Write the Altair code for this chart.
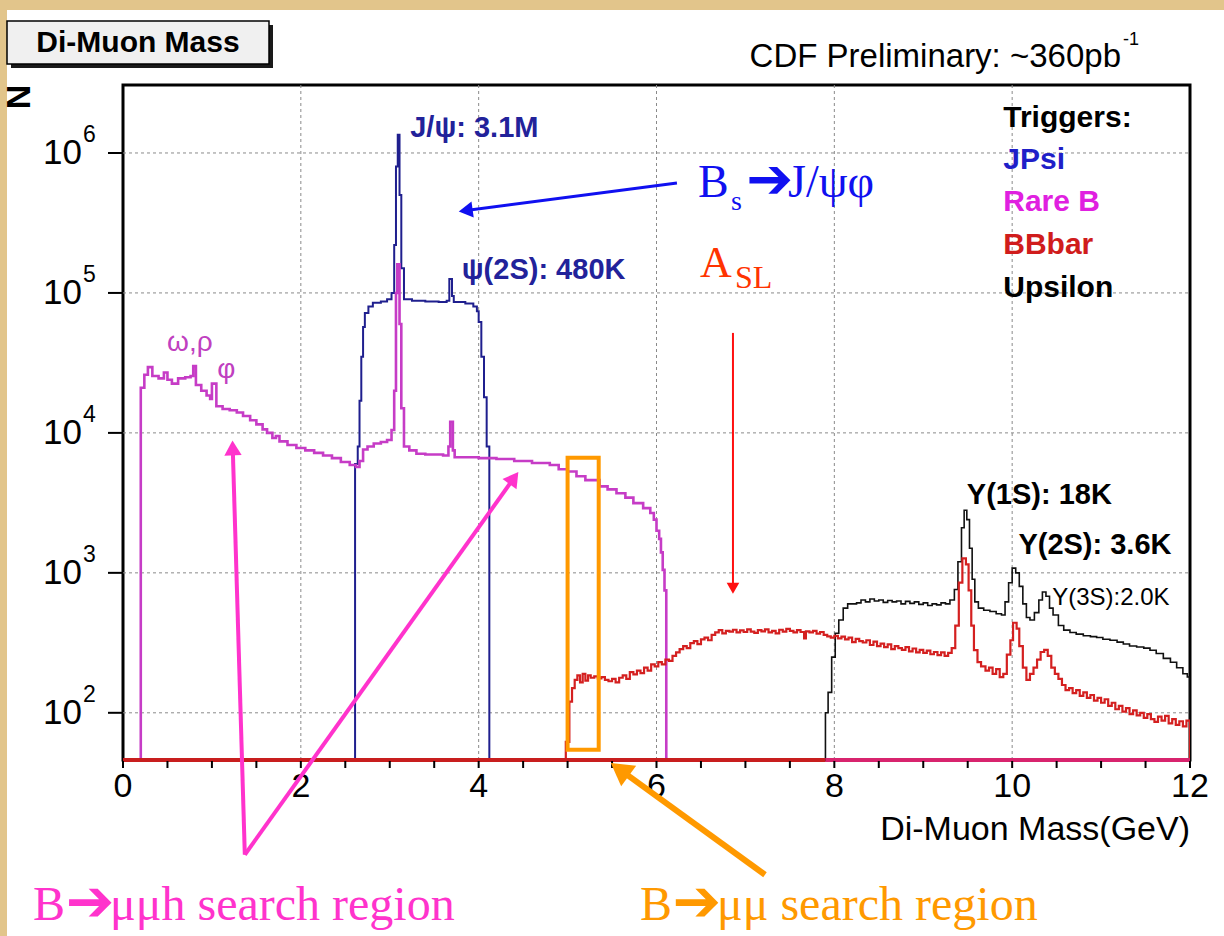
import altair as alt
import pandas as pd

# ---------------- data ----------------
# (di-muon mass [GeV] lower bin edge, entries N), drawn as step histograms
jpsi = [
    (2.59, 46), (2.61, 6000), (2.64, 8000), (2.66, 17000), (2.68, 35000), (2.70, 57000),
    (2.72, 72000), (2.76, 80000), (2.81, 85000), (2.90, 87000), (2.97, 90000), (3.02, 100000),
    (3.05, 220000), (3.07, 800000), (3.09, 1350000), (3.11, 500000), (3.13, 150000),
    (3.16, 90000), (3.25, 88000), (3.40, 87000), (3.55, 86000), (3.64, 88000), (3.67, 126000),
    (3.70, 95000), (3.72, 86000), (3.85, 84000), (3.94, 80000), (3.98, 74000), (4.00, 62000),
    (4.03, 35000), (4.06, 18000), (4.09, 8000), (4.12, 46),
]
rare_b = [
    (0.19, 46), (0.20, 21000), (0.24, 26000), (0.28, 29500), (0.33, 25500), (0.40, 24500),
    (0.46, 27000), (0.50, 24000), (0.55, 22500), (0.62, 24500), (0.70, 25000), (0.76, 25500),
    (0.79, 30000), (0.82, 22000), (0.88, 20000), (0.94, 18500), (0.98, 17500), (1.00, 22500),
    (1.05, 15500), (1.12, 14800), (1.20, 14500), (1.28, 14000), (1.35, 13200), (1.43, 12300),
    (1.50, 11500), (1.57, 10600), (1.62, 10000), (1.68, 9200), (1.72, 9500), (1.76, 8700),
    (1.85, 8200), (1.95, 7800), (2.05, 7500), (2.15, 7200), (2.25, 6900), (2.35, 6600),
    (2.45, 6200), (2.55, 5900), (2.62, 5700), (2.66, 6300), (2.70, 7600), (2.75, 8000),
    (2.82, 8400), (2.90, 8600), (2.97, 8900), (3.02, 10500), (3.05, 20000), (3.07, 100000),
    (3.085, 160000), (3.11, 60000), (3.13, 15000), (3.16, 8000), (3.22, 7500), (3.30, 7100),
    (3.40, 7000), (3.50, 7000), (3.60, 6900), (3.66, 8000), (3.68, 12000), (3.71, 7500),
    (3.73, 6700), (3.85, 6700), (4.00, 6600), (4.20, 6500), (4.40, 6300), (4.60, 6100),
    (4.80, 5900), (4.90, 5500), (5.00, 5300), (5.10, 4900), (5.20, 4600), (5.36, 4150),
    (5.45, 3950), (5.55, 3700), (5.65, 3450), (5.74, 3150), (5.85, 2900), (5.93, 2680),
    (5.97, 2400), (6.00, 2000), (6.03, 1750), (6.05, 1400), (6.07, 1050), (6.09, 750),
    (6.11, 46),
]
bbbar = [
    (4.97, 46), (4.98, 62), (5.02, 120), (5.05, 150), (5.08, 172), (5.11, 185), (5.14, 165),
    (5.17, 190), (5.20, 170), (5.23, 185), (5.26, 178), (5.30, 182), (5.34, 176), (5.38, 180),
    (5.42, 172), (5.46, 168), (5.50, 175), (5.54, 165), (5.58, 178), (5.62, 185), (5.66, 175),
    (5.70, 195), (5.74, 188), (5.78, 200), (5.82, 192), (5.86, 210), (5.90, 200), (5.94, 222),
    (5.98, 215), (6.02, 230), (6.06, 222), (6.10, 240), (6.14, 235), (6.18, 255), (6.22, 270),
    (6.26, 285), (6.30, 300), (6.34, 290), (6.38, 315), (6.42, 325), (6.46, 310), (6.50, 335),
    (6.54, 345), (6.58, 330), (6.62, 360), (6.66, 375), (6.70, 390), (6.74, 370), (6.78, 385),
    (6.82, 380), (6.86, 392), (6.90, 375), (6.94, 388), (6.98, 378), (7.02, 395), (7.06, 380),
    (7.10, 372), (7.14, 390), (7.18, 382), (7.22, 395), (7.26, 376), (7.30, 385), (7.34, 370),
    (7.38, 392), (7.42, 380), (7.46, 398), (7.50, 385), (7.54, 375), (7.58, 390), (7.62, 378),
    (7.66, 340), (7.68, 382), (7.72, 375), (7.76, 385), (7.80, 368), (7.84, 378), (7.88, 360),
    (7.92, 352), (7.96, 345), (8.00, 355), (8.04, 340), (8.08, 350), (8.12, 335), (8.16, 345),
    (8.20, 320), (8.24, 338), (8.28, 325), (8.32, 318), (8.36, 330), (8.40, 305), (8.44, 322),
    (8.48, 300), (8.52, 312), (8.56, 295), (8.60, 308), (8.64, 285), (8.68, 300), (8.72, 290),
    (8.76, 282), (8.80, 295), (8.84, 275), (8.88, 288), (8.92, 270), (8.96, 282), (9.00, 268),
    (9.04, 278), (9.08, 262), (9.12, 272), (9.16, 258), (9.20, 270), (9.24, 255), (9.28, 268),
    (9.32, 290), (9.36, 420), (9.40, 850), (9.44, 1270), (9.48, 1150), (9.51, 750), (9.54, 420),
    (9.57, 280), (9.61, 230), (9.65, 215), (9.70, 200), (9.74, 210), (9.78, 190), (9.82, 205),
    (9.86, 180), (9.90, 190), (9.94, 260), (9.98, 330), (10.01, 440), (10.05, 400), (10.08, 300),
    (10.12, 210), (10.16, 172), (10.20, 190), (10.24, 210), (10.28, 240), (10.32, 272),
    (10.36, 282), (10.40, 255), (10.44, 210), (10.48, 190), (10.52, 175), (10.56, 158),
    (10.60, 145), (10.64, 150), (10.68, 138), (10.72, 145), (10.76, 132), (10.80, 140),
    (10.84, 128), (10.88, 134), (10.92, 122), (10.96, 128), (11.00, 118), (11.04, 125),
    (11.08, 112), (11.12, 118), (11.16, 106), (11.20, 112), (11.24, 102), (11.28, 108),
    (11.32, 98), (11.36, 104), (11.40, 96), (11.44, 100), (11.48, 92), (11.52, 98), (11.56, 90),
    (11.60, 86), (11.64, 94), (11.68, 88), (11.72, 95), (11.76, 84), (11.80, 90), (11.84, 82),
    (11.88, 87), (11.92, 80), (11.96, 88), (12.00, 46),
]
upsilon = [
    (7.89, 46), (7.90, 100), (7.93, 140), (7.97, 250), (8.01, 370), (8.05, 460), (8.10, 560),
    (8.15, 600), (8.25, 610), (8.30, 640), (8.35, 620), (8.40, 650), (8.45, 630), (8.50, 640),
    (8.55, 615), (8.60, 635), (8.65, 620), (8.70, 630), (8.75, 600), (8.80, 625), (8.85, 605),
    (8.90, 620), (8.95, 595), (9.00, 610), (9.05, 585), (9.10, 600), (9.15, 590), (9.20, 610),
    (9.25, 600), (9.30, 640), (9.35, 760), (9.39, 1200), (9.43, 2100), (9.46, 2800),
    (9.49, 2400), (9.52, 1500), (9.55, 900), (9.58, 620), (9.62, 560), (9.68, 540),
    (9.75, 530), (9.82, 510), (9.88, 500), (9.92, 620), (9.96, 850), (10.00, 1080),
    (10.04, 1000), (10.08, 800), (10.12, 600), (10.16, 480), (10.20, 460), (10.25, 520),
    (10.30, 640), (10.34, 730), (10.38, 680), (10.42, 560), (10.46, 500), (10.52, 420),
    (10.58, 390), (10.65, 375), (10.72, 365), (10.80, 355), (10.88, 350), (10.95, 345),
    (11.02, 335), (11.10, 330), (11.18, 320), (11.25, 310), (11.32, 300), (11.40, 295),
    (11.48, 290), (11.55, 280), (11.62, 265), (11.70, 245), (11.78, 230), (11.85, 210),
    (11.92, 190), (11.97, 180), (12.00, 46),
]

trigger_names = ["JPsi", "Upsilon", "Rare B", "BBbar"]
trigger_line_colors = ["#1F1F8E", "#111111", "#C63CC6", "#D42020"]
trigger_line_widths = [2, 1.6, 2.6, 2.2]

x_ticks = [0, 0.5, 1, 1.5, 2, 2.5, 3, 3.5, 4, 4.5, 5, 5.5, 6, 6.5, 7, 7.5, 8, 8.5, 9,
           9.5, 10, 10.5, 11, 11.5, 12]
x_label_values = [0, 2, 4, 6, 8, 10, 12]
x_labels = ["0", "2", "4", "6", "8", "10", "12"]
x_grid = [2, 4, 6, 8, 10]
y_decades = [100, 1000, 10000, 100000, 1000000]
y_exponents = ["2", "3", "4", "5", "6"]
y_ticks = [50, 60, 70, 80, 90, 100, 200, 300, 400, 500, 600, 700, 800, 900,
           1000, 2000, 3000, 4000, 5000, 6000, 7000, 8000, 9000,
           10000, 20000, 30000, 40000, 50000, 60000, 70000, 80000, 90000,
           100000, 200000, 300000, 400000, 500000, 600000, 700000, 800000, 900000,
           1000000, 2000000, 3000000]

# peak labels: (text, mass, N)
navy_labels = [("J/ψ: 3.1M", 3.23, 1.51e6), ("ψ(2S): 480K", 3.81, 1.46e5)]
magenta_labels = [("ω,ρ", 0.495, 43900), ("φ", 1.06, 28200)]
upsilon_labels = [("Υ(1S): 18K", 9.49, 3610), ("Υ(2S): 3.6K", 10.07, 1585)]
upsilon3_labels = [("Υ(3S):2.0K", 10.45, 663)]
legend_labels = ["Triggers:", "JPsi", "Rare B", "BBbar", "Upsilon"]
legend_colors = ["#000000", "#1F1FC8", "#E020E0", "#D01C1C", "#000000"]
legend_n = [1.53e6, 7.69e5, 3.85e5, 1.90e5, 9.37e4]
legend_mass = 9.90

# slide annotations (mass, N)
blue_arrow = [(6.23, 611000), (3.88, 390000)]
red_arrow = [(6.86, 51800), (6.86, 800)]
pink_arrow_a = [(1.37, 9.68), (1.235, 7500)]
pink_arrow_b = [(1.37, 9.68), (4.38, 4600)]
orange_arrow = [(7.22, 6.97), (5.62, 38)]
orange_box = [(5.00, 5.35, 54.5, 6630)]
baseline = [(0.0, 7.9, "#C81E1E"), (7.9, 12.0, "#D8246E")]

W, H = 1067, 675
SANS = "Liberation Sans"
SERIF = "Liberation Serif"
TAN = "#E2C58B"

xs = alt.Scale(domain=[0, 12], nice=False, zero=False)
ys = alt.Scale(type="log", domain=[46, 3.06e6], nice=False)


def X(f="mass"):
    return alt.X(f"{f}:Q", scale=xs, axis=None)


def Y(f="n"):
    return alt.Y(f"{f}:Q", scale=ys, axis=None)


def one():
    return pd.DataFrame({"k": [0]})


layers = []

# slide background strips
layers.append(alt.Chart(one()).mark_rect(color=TAN).encode(
    x=alt.value(-123), x2=alt.value(-116), y=alt.value(-85), y2=alt.value(851)))
layers.append(alt.Chart(one()).mark_rect(color=TAN).encode(
    x=alt.value(-123), x2=alt.value(1101), y=alt.value(-85), y2=alt.value(-75)))

# grid
layers.append(alt.Chart(pd.DataFrame({"mass": x_grid})).mark_rule(
    color="#8a8a8a", strokeDash=[3, 3], strokeWidth=1).encode(
    x=X(), y=alt.value(0), y2=alt.value(H)))
layers.append(alt.Chart(pd.DataFrame({"n": y_decades})).mark_rule(
    color="#8a8a8a", strokeDash=[3, 3], strokeWidth=1).encode(
    y=Y(), x=alt.value(0), x2=alt.value(W)))

# histograms
rows = []
for name, col, w, pts in zip(trigger_names, trigger_line_colors, trigger_line_widths,
                             [jpsi, upsilon, rare_b, bbbar]):
    for i, (m, n) in enumerate(pts):
        rows.append({"trigger": name, "mass": m, "n": n, "i": i, "col": col, "w": w})
hist_df = pd.DataFrame(rows)

y_axis = alt.Axis(values=y_ticks, tickSize=8, tickWidth=1.5, tickColor="black",
                  domainColor="black", domainWidth=3, labels=False, grid=False, title=None)

layers.append(alt.Chart(hist_df).mark_line(interpolate="step-after", clip=True).encode(
    x=X(),
    y=alt.Y("n:Q", scale=ys, axis=y_axis),
    color=alt.Color("col:N", scale=None),
    strokeWidth=alt.StrokeWidth("w:Q", scale=None),
    detail="trigger:N",
    order=alt.Order("i:Q"),
))

# histogram zero lines along the x axis
bl = pd.DataFrame(baseline, columns=["mass", "mass2", "col"])
bl["n"] = 46
layers.append(alt.Chart(bl).mark_rule(strokeWidth=4).encode(
    x=X(), x2="mass2:Q", y=Y(), color=alt.Color("col:N", scale=None)))

# x ticks and labels
layers.append(alt.Chart(pd.DataFrame({"mass": x_ticks})).mark_rule(
    color="black", strokeWidth=2).encode(x=X(), y=alt.value(H + 1), y2=alt.value(H + 8)))
layers.append(alt.Chart(pd.DataFrame({"mass": x_label_values, "label": x_labels})).mark_text(
    font=SANS, fontSize=34, align="center", baseline="top", color="black").encode(
    x=X(), y=alt.value(H + 10), text="label:N"))

# y major ticks and labels
dec = pd.DataFrame({"n": y_decades, "base": ["10"] * 5, "exp": y_exponents})
layers.append(alt.Chart(dec).mark_rule(color="black", strokeWidth=2).encode(
    y=Y(), x=alt.value(-15), x2=alt.value(0)))
layers.append(alt.Chart(dec).mark_text(font=SANS, fontSize=35, align="right",
                                       baseline="middle", color="black").encode(
    y=Y(), x=alt.value(-41), text="base:N"))
layers.append(alt.Chart(dec).mark_text(font=SANS, fontSize=23, align="left",
                                       baseline="middle", color="black", dy=-18).encode(
    y=Y(), x=alt.value(-40), text="exp:N"))

# axis titles, header box, CDF text (chrome)
layers.append(alt.Chart(one()).mark_text(text="Di-Muon Mass(GeV)", font=SANS, fontSize=34,
                                         align="right", baseline="middle", color="black").encode(
    x=alt.value(W), y=alt.value(745)))
layers.append(alt.Chart(one()).mark_text(text="N", font=SANS, fontSize=34, fontWeight="bold",
                                         angle=270, align="center", baseline="middle",
                                         color="black").encode(
    x=alt.value(-103), y=alt.value(12)))
layers.append(alt.Chart(one()).mark_rect(color="#1a1a1a").encode(
    x=alt.value(-112), x2=alt.value(150), y=alt.value(-60), y2=alt.value(-17)))
layers.append(alt.Chart(one()).mark_rect(fill="#F0F0F0", stroke="black", strokeWidth=1.5).encode(
    x=alt.value(-116), x2=alt.value(146), y=alt.value(-64), y2=alt.value(-21)))
layers.append(alt.Chart(one()).mark_text(text="Di-Muon Mass", font=SANS, fontSize=30,
                                         fontWeight="bold", align="center", baseline="middle",
                                         color="black").encode(
    x=alt.value(15), y=alt.value(-42)))
layers.append(alt.Chart(one()).mark_text(text="CDF Preliminary: ~360pb", font=SANS, fontSize=33,
                                         align="right", baseline="middle", color="black").encode(
    x=alt.value(998), y=alt.value(-28)))
layers.append(alt.Chart(one()).mark_text(text="-1", font=SANS, fontSize=18, align="left",
                                         baseline="middle", color="black").encode(
    x=alt.value(1000), y=alt.value(-45)))


def labels(items, **kw):
    df = pd.DataFrame(items, columns=["label", "mass", "n"])
    return alt.Chart(df).mark_text(**kw).encode(x=X(), y=Y(), text="label:N")


layers.append(labels(navy_labels, font=SANS, fontSize=29, fontWeight="bold", align="left",
                     baseline="middle", color="#22229A"))
layers.append(labels(magenta_labels, font=SANS, fontSize=28, align="left",
                     baseline="middle", color="#C040C0"))
layers.append(labels(upsilon_labels, font=SANS, fontSize=29, fontWeight="bold", align="left",
                     baseline="middle", color="black"))
layers.append(labels(upsilon3_labels, font=SANS, fontSize=24, align="left",
                     baseline="middle", color="black"))

leg = pd.DataFrame({"label": legend_labels, "n": legend_n, "col": legend_colors})
leg["mass"] = legend_mass
layers.append(alt.Chart(leg).mark_text(font=SANS, fontSize=30, fontWeight="bold", align="left",
                                       baseline="alphabetic").encode(
    x=X(), y=Y(), text="label:N", color=alt.Color("col:N", scale=None)))


# arrows
def arrow(pts, color, width, head_size, head_angle):
    df = pd.DataFrame(pts, columns=["mass", "n"])
    df["i"] = range(len(df))
    line = alt.Chart(df).mark_line(color=color, strokeWidth=width).encode(
        x=X(), y=Y(), order="i:Q")
    head = alt.Chart(df.tail(1)).mark_point(shape="triangle", filled=True, opacity=1,
                                            color=color, size=head_size,
                                            angle=head_angle).encode(x=X(), y=Y())
    return [line, head]


layers += arrow(blue_arrow, "#1010F0", 3, 260, 262)
layers += arrow(red_arrow, "#FF1010", 2, 160, 180)
layers += arrow(pink_arrow_a, "#FF33CC", 4, 300, 358)
layers += arrow(pink_arrow_b, "#FF33CC", 4, 300, 36)
layers += arrow(orange_arrow, "#FF9900", 6, 650, 306)

ob = pd.DataFrame(orange_box, columns=["mass", "mass2", "n", "n2"])
layers.append(alt.Chart(ob).mark_rect(fillOpacity=0, stroke="#FF9900", strokeWidth=4).encode(
    x=X(), x2="mass2:Q", y=Y(), y2="n2:Q"))

# slide texts (Times-like)
layers.append(labels([("B", 6.466, 485000), ("J/ψφ", 7.479, 485000)], font=SERIF,
                     fontSize=46, align="left", baseline="alphabetic", color="#1010F0"))
layers.append(labels([("s", 6.838, 392000)], font=SERIF, fontSize=28, align="left",
                     baseline="alphabetic", color="#1010F0"))
layers.append(labels([("➔", 7.01, 631000)], font="DejaVu Sans", fontSize=56, fontWeight="bold",
                     align="left", baseline="middle", color="#1010F0"))

layers.append(labels([("A", 6.49, 130000)], font=SERIF, fontSize=44, align="left",
                     baseline="alphabetic", color="#FF3300"))
layers.append(labels([("SL", 6.883, 108600)], font=SERIF, fontSize=32, align="left",
                     baseline="alphabetic", color="#FF3300"))

pink_text = [("B", -1.012, 3.32), ("μμh search region", -0.146, 3.32)]
orange_text = [("B", 5.814, 3.32), ("μμ search region", 6.68, 3.32)]
layers.append(labels(pink_text, font=SERIF, fontSize=48, align="left", baseline="alphabetic",
                     color="#FF33CC"))
layers.append(labels([("➔", -0.645, 4.32)], font="DejaVu Sans", fontSize=58, fontWeight="bold",
                     align="left", baseline="middle", color="#FF33CC"))
layers.append(labels(orange_text, font=SERIF, fontSize=48, align="left", baseline="alphabetic",
                     color="#FF9900"))
layers.append(labels([("➔", 6.18, 4.32)], font="DejaVu Sans", fontSize=58, fontWeight="bold",
                     align="left", baseline="middle", color="#FF9900"))

chart = alt.layer(*layers).properties(
    width=W, height=H,
    background="white",
    padding={"left": 123, "top": 85, "right": 34, "bottom": 176},
    autosize=alt.AutoSizeParams(type="none"),
).configure_view(stroke="black", strokeWidth=3)

chart.save("out.html", embed_options={"renderer": "svg", "actions": False})
